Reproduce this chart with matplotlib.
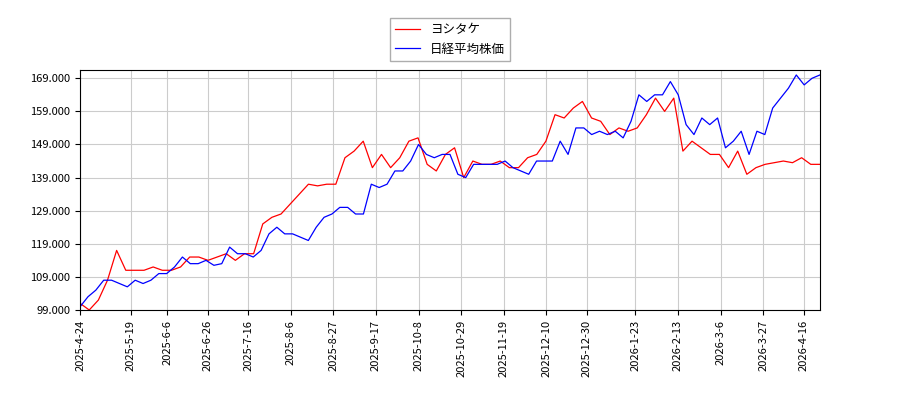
import matplotlib
matplotlib.use("Agg")
import matplotlib.pyplot as plt
import matplotlib.ticker as ticker
import numpy as np
import pandas as pd

plt.rcParams["font.family"] = ["Noto Sans CJK JP", "DejaVu Sans"]

# ── データ ───────────────────────────────────
yoshitake = [101, 99, 102, 108, 117, 111, 111, 111, 112, 111, 111, 112, 115,
             115, 114, 115, 116, 114, 116, 116, 125, 127, 128, 131, 134, 137,
             136.5, 137, 137, 145, 147, 150, 142, 146, 142, 145, 150, 151, 143,
             141, 146, 148, 139, 144, 143, 143, 144, 142, 142, 145, 146, 150,
             158, 157, 160, 162, 157, 156, 152, 154, 153, 154, 158, 163, 159,
             163, 147, 150, 148, 146, 146, 142, 147, 140, 142, 143, 143.5, 144,
             143.5, 145, 143, 143]
nikkei = [100, 103, 105, 108, 108, 107, 106, 108, 107, 108, 110, 110, 112,
          115, 113, 113, 114, 112.5, 113, 118, 116, 116, 115, 117, 122, 124,
          122, 122, 121, 120, 124, 127, 128, 130, 130, 128, 128, 137, 136, 137,
          141, 141, 144, 149, 146, 145, 146, 146, 140, 139, 143, 143, 143, 143,
          144, 142, 141, 140, 144, 144, 144, 150, 146, 154, 154, 152, 153, 152,
          153, 151, 156, 164, 162, 164, 164, 168, 164, 155, 152, 157, 155, 157,
          148, 150, 153, 146, 153, 152, 160, 163, 166, 170, 167, 169, 170]
tick_dates = ["2025-4-24", "2025-5-19", "2025-6-6", "2025-6-26", "2025-7-16",
              "2025-8-6", "2025-8-27", "2025-9-17", "2025-10-8", "2025-10-29",
              "2025-11-19", "2025-12-10", "2025-12-30", "2026-1-23", "2026-2-13",
              "2026-3-6", "2026-3-27", "2026-4-16"]

start, end = pd.Timestamp("2025-04-24"), pd.Timestamp("2026-04-24")
d_red = pd.date_range(start, end, periods=len(yoshitake))
d_blue = pd.date_range(start, end, periods=len(nikkei))

fig = plt.figure(figsize=(9, 4), dpi=100)
ax = fig.add_axes([0.089, 0.225, 0.822, 0.60])
l1, = ax.plot(d_red, yoshitake, color="red", linewidth=0.9, label="ヨシタケ")
l2, = ax.plot(d_blue, nikkei, color="blue", linewidth=0.9, label="日経平均株価")

ax.set_xticks(pd.to_datetime(tick_dates))
ax.set_xticklabels(tick_dates, rotation=90, fontsize=8)
ax.set_xlim(start, end)
ax.set_ylim(99, 171.5)
ax.set_yticks(np.arange(99, 170, 10))
ax.yaxis.set_major_formatter(ticker.FuncFormatter(lambda v, p: f"{v:.3f}"))
ax.tick_params(axis="y", labelsize=8)
ax.grid(True, color="#cccccc", linewidth=0.8)

fig.legend(handles=[l1, l2], loc="upper center", bbox_to_anchor=(0.5, 0.97),
           fontsize=9, fancybox=False, edgecolor="#999999")

fig.savefig("out.png")
